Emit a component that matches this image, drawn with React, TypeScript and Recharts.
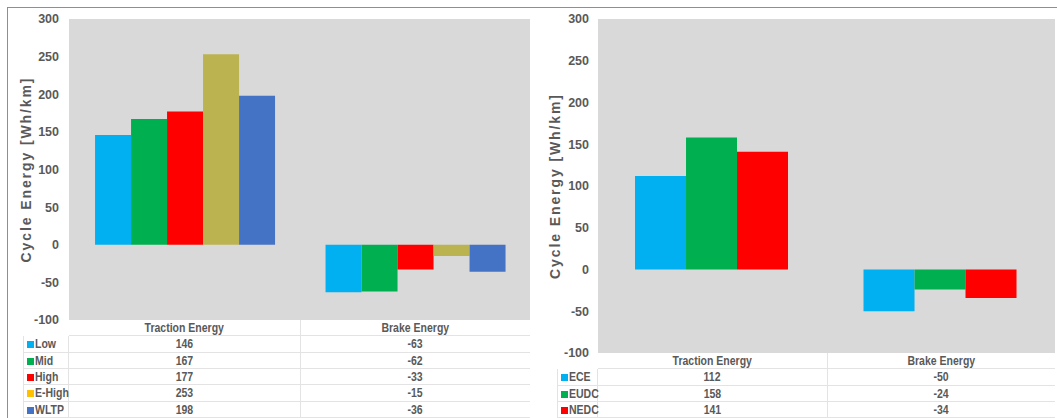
import React from "react";
import { BarChart, Bar, XAxis, YAxis, CartesianGrid } from "recharts";

const categories = ["Traction Energy", "Brake Energy"];
const yTicks = [-100, -50, 0, 50, 100, 150, 200, 250, 300];

const wltpSeries = ["Low", "Mid", "High", "E-High", "WLTP"];
const wltpTraction = [146, 167, 177, 253, 198];
const wltpBrake = [-63, -62, -33, -15, -36];
const wltpBarColors = ["#00B0F0", "#00B050", "#FF0000", "#BBB350", "#4472C4"];
const wltpKeyColors = ["#00B0F0", "#00B050", "#FF0000", "#FFC000", "#4472C4"];

const nedcSeries = ["ECE", "EUDC", "NEDC"];
const nedcTraction = [112, 158, 141];
const nedcBrake = [-50, -24, -34];
const nedcColors = ["#00B0F0", "#00B050", "#FF0000"];

const TEXT = "#595959";
const GRID_BG = "#D9D9D9";
const TABLE_LINE = "#E3E3E3";
const axisFont = "'Liberation Sans', Arial, sans-serif";

const buildRows = (series: string[], traction: number[], brake: number[]) =>
  categories.map((name, i) => {
    const row: Record<string, any> = { name };
    series.forEach((s, j) => {
      row[s] = i === 0 ? traction[j] : brake[j];
    });
    return row;
  });

const AxisTitle = (props: any) => {
  const { viewBox, dx } = props;
  const cx = viewBox.x + dx;
  const cy = viewBox.y + viewBox.height / 2;
  return (
    <text
      x={cx}
      y={cy}
      transform={`rotate(-90 ${cx} ${cy})`}
      textAnchor="middle"
      dominantBaseline="central"
      fill={TEXT}
      fontSize={14}
      fontWeight="bold"
      letterSpacing={1.9}
      fontFamily={axisFont}
    >
      Cycle Energy [Wh/km]
    </text>
  );
};

// narrow look of the table text (no Arial Narrow available)
const Narrow = ({ children, origin }: { children: React.ReactNode; origin: string }) => (
  <span style={{ display: "inline-block", transform: "scaleX(0.84)", transformOrigin: origin }}>
    {children}
  </span>
);

interface PanelProps {
  left: number;
  width: number;
  axisWidth: number;
  top: number;
  bottom: number;
  right: number;
  gap: string;
  tickMargin: number;
  titleX: number;
  keyLeft: number;
  series: string[];
  traction: number[];
  brake: number[];
  barColors: string[];
  keyColors: string[];
}

const Panel = (p: PanelProps) => {
  const data = buildRows(p.series, p.traction, p.brake);
  const height = 418;
  const plotLeft = p.axisWidth;
  const plotWidth = p.width - p.axisWidth - p.right;
  const colW = plotWidth / categories.length;
  const tableTop = height - p.bottom;
  const rowH = (height - tableTop) / (p.series.length + 1);
  const keyW = plotLeft - p.keyLeft;

  const cell = (extra: React.CSSProperties): React.CSSProperties => ({
    position: "absolute",
    height: rowH,
    lineHeight: `${rowH}px`,
    boxSizing: "border-box",
    fontFamily: axisFont,
    fontWeight: "bold",
    fontSize: 12.5,
    color: TEXT,
    whiteSpace: "nowrap",
    ...extra,
  });

  return (
    <div style={{ position: "absolute", left: p.left, top: 0, width: p.width, height }}>
      <BarChart
        width={p.width}
        height={height}
        data={data}
        margin={{ top: p.top, right: p.right, bottom: p.bottom, left: 0 }}
        barCategoryGap={p.gap}
        barGap={0}
      >
        <CartesianGrid fill={GRID_BG} horizontal={false} vertical={false} />
        <XAxis dataKey="name" hide />
        <YAxis
          width={p.axisWidth}
          domain={[-100, 300]}
          ticks={yTicks}
          interval={0}
          axisLine={false}
          tickLine={false}
          tickSize={0}
          tickMargin={p.tickMargin}
          tick={{ fill: TEXT, fontSize: 12.5, fontWeight: "bold", fontFamily: axisFont }}
          label={<AxisTitle dx={p.titleX} />}
        />
        {p.series.map((s, i) => (
          <Bar key={s} dataKey={s} fill={p.barColors[i]} isAnimationActive={false} />
        ))}
      </BarChart>

      {categories.map((c, ci) => (
        <div
          key={c}
          style={cell({
            left: plotLeft + ci * colW,
            top: tableTop,
            width: colW,
            textAlign: "center",
            borderLeft: ci > 0 ? `1px solid ${TABLE_LINE}` : "none",
            borderBottom: `1px solid ${TABLE_LINE}`,
          })}
        >
          <Narrow origin="center">{c}</Narrow>
        </div>
      ))}

      {p.series.map((s, ri) => {
        const y = tableTop + rowH * (ri + 1);
        const vals = [p.traction[ri], p.brake[ri]];
        return (
          <React.Fragment key={s}>
            <div
              style={cell({
                left: p.keyLeft,
                top: y,
                width: keyW,
                borderLeft: `1px solid ${TABLE_LINE}`,
                borderRight: `1px solid ${TABLE_LINE}`,
                borderBottom: `1px solid ${TABLE_LINE}`,
                paddingLeft: 3,
              })}
            >
              <span
                style={{
                  display: "inline-block",
                  width: 7,
                  height: 7,
                  background: p.keyColors[ri],
                  marginRight: 1,
                  verticalAlign: "0px",
                }}
              />
              <Narrow origin="left">{s}</Narrow>
            </div>
            {vals.map((v, ci) => (
              <div
                key={ci}
                style={cell({
                  left: plotLeft + ci * colW,
                  top: y,
                  width: colW,
                  textAlign: "center",
                  borderLeft: ci > 0 ? `1px solid ${TABLE_LINE}` : "none",
                  borderBottom: `1px solid ${TABLE_LINE}`,
                })}
              >
                <Narrow origin="center">{v}</Narrow>
              </div>
            ))}
          </React.Fragment>
        );
      })}
    </div>
  );
};

export default function App() {
  return (
    <div
      style={{
        position: "absolute",
        left: 0,
        top: 0,
        width: 1057,
        height: 418,
        background: "#fff",
        overflow: "hidden",
      }}
    >
      <div
        style={{
          position: "absolute",
          left: 7,
          top: 7,
          width: 1057,
          height: 418,
          borderLeft: "1px solid #8F8F8F",
          borderTop: "1px solid #8F8F8F",
        }}
      />
      <Panel
        left={0}
        width={530}
        axisWidth={69}
        top={19}
        bottom={98}
        right={0}
        gap="11.3%"
        tickMargin={10}
        titleX={26}
        keyLeft={23}
        series={wltpSeries}
        traction={wltpTraction}
        brake={wltpBrake}
        barColors={wltpBarColors}
        keyColors={wltpKeyColors}
      />
      <Panel
        left={530}
        width={527}
        axisWidth={68}
        top={19}
        bottom={65}
        right={2}
        gap="16.2%"
        tickMargin={9}
        titleX={25}
        keyLeft={27}
        series={nedcSeries}
        traction={nedcTraction}
        brake={nedcBrake}
        barColors={nedcColors}
        keyColors={nedcColors}
      />
    </div>
  );
}
